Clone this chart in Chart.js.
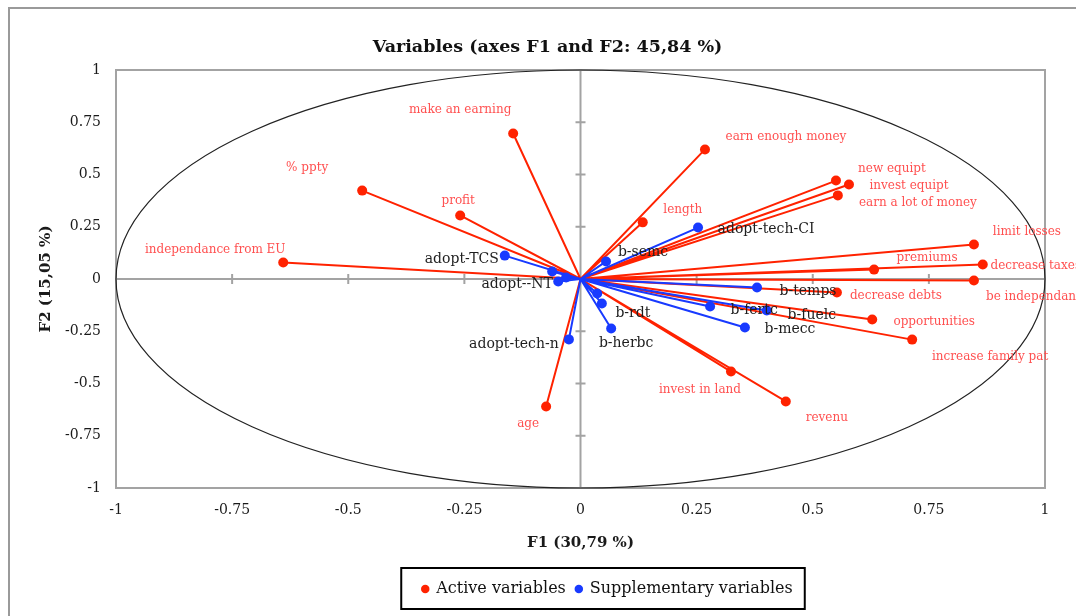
<!DOCTYPE html>
<html>
<head>
<meta charset="utf-8">
<script src="https://cdn.jsdelivr.net/npm/chart.js@4.4.1/dist/chart.umd.min.js"></script>
<style>
  html, body { margin: 0; padding: 0; background: #fff; overflow: hidden; }
</style>
</head>
<body>
<canvas id="chart" width="1076" height="616"></canvas>
<script>
// active variables (red)
const activeNames = ['make an earning', '% ppty', 'profit', 'independance from EU', 'earn enough money',
  'length', 'new equipt', 'invest equipt', 'earn a lot of money', 'limit losses', 'premiums',
  'decrease taxes', 'be independance', 'decrease debts', 'opportunities', 'increase family pat',
  'invest in land', 'revenu', 'age'];
const activeF1 = [-0.145, -0.470, -0.259, -0.640, 0.268, 0.134, 0.550, 0.578, 0.554, 0.847, 0.632,
  0.866, 0.847, 0.552, 0.628, 0.714, 0.324, 0.442, -0.074];
const activeF2 = [0.696, 0.423, 0.304, 0.079, 0.620, 0.271, 0.471, 0.452, 0.400, 0.165, 0.045,
  0.069, -0.007, -0.065, -0.194, -0.290, -0.443, -0.586, -0.610];

// supplementary variables (blue)
const supplNames = ['adopt-tech-CI', 'b-semc', 'adopt-TCS', '', '', 'adopt--NT', 'adopt-tech-n', '',
  'b-rdt', 'b-herbc', 'b-temps', 'b-fertc', 'b-fuelc', 'b-mecc'];
const supplF1 = [0.253, 0.055, -0.163, -0.061, -0.031, -0.048, -0.025, 0.036, 0.046, 0.066, 0.380,
  0.279, 0.401, 0.354];
const supplF2 = [0.246, 0.084, 0.112, 0.036, 0.007, -0.012, -0.289, -0.069, -0.117, -0.237, -0.041,
  -0.132, -0.151, -0.232];

const tickValues = [-1, -0.75, -0.5, -0.25, 0, 0.25, 0.5, 0.75, 1];
const tickLabels = ['-1', '-0.75', '-0.5', '-0.25', '0', '0.25', '0.5', '0.75', '1'];

// label placement (pixels from the point, text centre)
const activeLabelOffsets = [[-53, -24], [-55, -23], [-2, -15], [-68, -13], [81, -13], [40, -12],
  [56, -12], [60, 1], [80, 7], [53, -13], [53, -12], [53, 1], [64, 16], [59, 3], [62, 2], [78, 17],
  [-31, 18], [41, 16], [-18, 17]];
const supplLabelOffsets = [[68, 2], [37, -9], [-43, 4], [0, 0], [0, 0], [-41, 3], [-55, 5], [0, 0],
  [31, 10], [15, 15], [51, 4], [44, 4], [45, 5], [45, 2]];

const RED = 'rgb(255,34,0)';
const BLUE = 'rgb(24,58,255)';
const FONT = "'DejaVu Serif', serif";

function points(xs, ys) {
  return xs.map((x, i) => ({ x: x, y: ys[i] }));
}
// origin -> point -> origin -> next point ...
function rays(xs, ys) {
  const out = [];
  xs.forEach((x, i) => {
    out.push({ x: 0, y: 0 });
    out.push({ x: x, y: ys[i] });
  });
  out.push({ x: 0, y: 0 });
  return out;
}

const decorPlugin = {
  id: 'decor',
  afterLayout(chart) {
    const tb = chart.titleBlock;
    if (tb) { tb.left += 25; tb.right += 25; }
    const lg = chart.legend;
    if (lg) {
      lg.left += 85; lg.right += 85;
      lg.legendHitBoxes.forEach(h => { h.left += 85; });
    }
  },
  beforeDatasetsDraw(chart) {
    const { ctx, chartArea: a, scales: { x, y } } = chart;
    const x0 = x.getPixelForValue(0);
    const y0 = y.getPixelForValue(0);
    ctx.save();
    // frame
    ctx.strokeStyle = '#a3a3a3';
    ctx.lineWidth = 2;
    ctx.strokeRect(a.left, a.top, a.right - a.left, a.bottom - a.top);
    // zero axes with small ticks
    ctx.beginPath();
    ctx.moveTo(a.left, y0); ctx.lineTo(a.right, y0);
    ctx.moveTo(x0, a.top); ctx.lineTo(x0, a.bottom);
    tickValues.forEach(v => {
      if (v === 0 || Math.abs(v) === 1) return;
      const px = x.getPixelForValue(v);
      ctx.moveTo(px, y0 - 5); ctx.lineTo(px, y0 + 5);
      const py = y.getPixelForValue(v);
      ctx.moveTo(x0 - 5, py); ctx.lineTo(x0 + 5, py);
    });
    ctx.stroke();
    // correlation circle
    ctx.strokeStyle = '#222';
    ctx.lineWidth = 1.2;
    ctx.beginPath();
    ctx.ellipse(x0, y0, x.getPixelForValue(1) - x0, y0 - y.getPixelForValue(1), 0, 0, Math.PI * 2);
    ctx.stroke();
    ctx.restore();
  },
  afterDatasetsDraw(chart) {
    const { ctx } = chart;
    ctx.save();
    ctx.textAlign = 'center';
    ctx.textBaseline = 'middle';
    const groups = [
      { idx: 2, names: activeNames, offs: activeLabelOffsets, font: '12px ' + FONT, color: 'rgb(255,80,80)' },
      { idx: 3, names: supplNames, offs: supplLabelOffsets, font: '14px ' + FONT, color: '#1e1e1e' }
    ];
    groups.forEach(g => {
      const meta = chart.getDatasetMeta(g.idx);
      ctx.font = g.font;
      ctx.fillStyle = g.color;
      meta.data.forEach((el, i) => {
        if (!g.names[i]) return;
        ctx.fillText(g.names[i], el.x + g.offs[i][0], el.y + g.offs[i][1]);
      });
    });
    ctx.restore();
  },
  afterDraw(chart) {
    const { ctx } = chart;
    ctx.save();
    // outer chart border
    ctx.strokeStyle = '#9a9a9a';
    ctx.lineWidth = 2;
    ctx.strokeRect(9, 8, 1200, 1200);
    // legend box
    const hb = chart.legend.legendHitBoxes;
    if (hb.length) {
      const l = Math.min(...hb.map(h => h.left)) - 21;
      const r = Math.max(...hb.map(h => h.left + h.width)) + 12;
      const t = hb[0].top - 13;
      const b = hb[0].top + hb[0].height + 12;
      ctx.strokeStyle = '#000';
      ctx.lineWidth = 2;
      ctx.strokeRect(l, t, r - l, b - t);
    }
    ctx.restore();
  }
};

new Chart(document.getElementById('chart'), {
  type: 'scatter',
  data: {
    datasets: [
      {
        label: 'active rays',
        data: rays(activeF1, activeF2),
        showLine: true,
        borderColor: RED,
        borderWidth: 2,
        borderJoinStyle: 'round',
        pointRadius: 0,
        order: 4
      },
      {
        label: 'supplementary rays',
        data: rays(supplF1, supplF2),
        showLine: true,
        borderColor: BLUE,
        borderWidth: 2,
        borderJoinStyle: 'round',
        pointRadius: 0,
        order: 3
      },
      {
        label: 'Active variables',
        data: points(activeF1, activeF2),
        backgroundColor: RED,
        borderWidth: 0,
        pointRadius: 5,
        order: 2
      },
      {
        label: 'Supplementary variables',
        data: points(supplF1, supplF2),
        backgroundColor: BLUE,
        borderWidth: 0,
        pointRadius: 5,
        order: 1
      }
    ]
  },
  options: {
    responsive: false,
    animation: false,
    layout: { padding: { left: 0, right: 31, top: 0, bottom: 9 } },
    scales: {
      x: {
        min: -1, max: 1,
        afterBuildTicks: s => { s.ticks = tickValues.map(v => ({ value: v })); },
        afterFit: s => { s.height = 83; },
        grid: { display: false, drawTicks: false },
        border: { display: false },
        ticks: {
          padding: 14,
          color: '#1a1a1a',
          font: { family: FONT, size: 14 },
          callback: v => tickLabels[tickValues.indexOf(v)]
        },
        title: {
          display: true,
          text: 'F1 (30,79 %)',
          color: '#1a1a1a',
          font: { family: FONT, size: 15, weight: 'bold' },
          padding: { top: 0, bottom: 19 }
        }
      },
      y: {
        min: -1, max: 1,
        afterBuildTicks: s => { s.ticks = tickValues.map(v => ({ value: v })); },
        afterFit: s => { s.width = 116; },
        grid: { display: false, drawTicks: false },
        border: { display: false },
        ticks: {
          padding: 15,
          color: '#1a1a1a',
          font: { family: FONT, size: 14 },
          callback: v => tickLabels[tickValues.indexOf(v)]
        },
        title: {
          display: true,
          text: 'F2 (15,05 %)',
          color: '#1a1a1a',
          font: { family: FONT, size: 15, weight: 'bold' },
          padding: { top: 37, bottom: 0 }
        }
      }
    },
    plugins: {
      title: {
        display: true,
        text: 'Variables (axes F1 and F2: 45,84 %)',
        color: '#111',
        font: { family: FONT, size: 17.5, weight: 'bold' },
        padding: { top: 36.5, bottom: 12.5 }
      },
      legend: {
        position: 'bottom',
        labels: {
          filter: item => item.datasetIndex >= 2,
          sort: (a, b) => a.datasetIndex - b.datasetIndex,
          usePointStyle: true,
          pointStyle: 'circle',
          boxWidth: 6,
          boxHeight: 6,
          padding: 10,
          color: '#111',
          font: { family: FONT, size: 16 }
        }
      },
      tooltip: { enabled: false }
    }
  },
  plugins: [decorPlugin]
});
</script>
</body>
</html>
